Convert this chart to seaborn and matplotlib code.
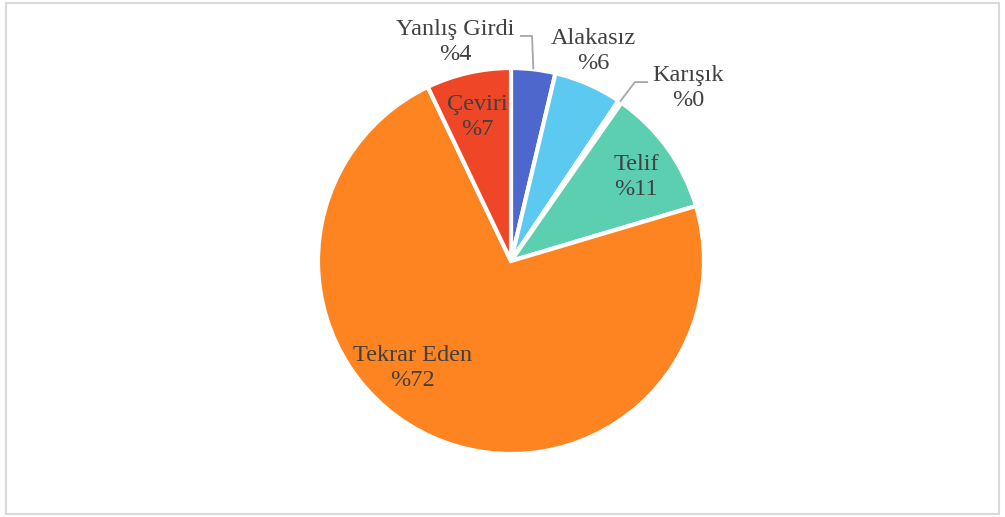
import numpy as np
import matplotlib.pyplot as plt
import seaborn as sns
from matplotlib.patches import Rectangle

sns.set_theme(style="white")
plt.rcParams['font.family'] = ['Liberation Serif', 'DejaVu Serif']

# slices, clockwise from 12 o'clock
categories = ['Yanlış Girdi', 'Alakasız', 'Karışık', 'Telif', 'Tekrar Eden', 'Çeviri']
shares = [3.7, 5.7, 0.3, 10.7, 72.5, 7.1]
pct_labels = ['%4', '%6', '%0', '%11', '%72', '%7']
colors = ['#4E67CC', '#5BC9F0', '#A6D96A', '#5CCFB1', '#FE8321', '#EF4628']

# label centres in pie-radius units (placed by hand in the original chart)
label_xy = [(-0.29, 1.135), (0.425, 1.088), (0.917, 0.896),
            (0.648, 0.435), (-0.508, -0.554), (-0.176, 0.746)]

fig = plt.figure(figsize=(10.05, 5.17), dpi=100)
ax = fig.add_axes([0, 0, 1, 1])

r_px = 193
cx, cy = 511, 256

wedges, _ = ax.pie(shares, colors=colors, startangle=90, counterclock=False,
                   radius=1.0, center=(0, 0), frame=False,
                   wedgeprops=dict(edgecolor='white', linewidth=3))
ax.set_xlim(-cx / r_px, (1005 - cx) / r_px)
ax.set_ylim(-cy / r_px, (517 - cy) / r_px)
ax.set_aspect('auto')
ax.axis('off')

txt_kw = dict(ha='center', va='center', fontsize=17.5, color='#404040', linespacing=1.25)
for i, (tx, ty) in enumerate(label_xy):
    ax.text(tx, ty, categories[i] + '\n' + pct_labels[i], **txt_kw)


# leader lines for the small slices
def leader(i, elbow, end):
    w = wedges[i]
    mid = np.deg2rad((w.theta1 + w.theta2) / 2)
    px, py = np.cos(mid), np.sin(mid)
    ax.plot([px, elbow[0], end[0]], [py, elbow[1], end[1]],
            color='#A6A6A6', lw=1.3, solid_capstyle='butt')


leader(0, (0.109, 1.166), (0.047, 1.166))
leader(2, (0.642, 0.927), (0.71, 0.927))

fig.patches.append(Rectangle((0.006, 0.006), 0.988, 0.989, transform=fig.transFigure,
                             fill=False, edgecolor='#D9D9D9', lw=1.5))

fig.savefig('out.png', dpi=100, facecolor='white')
